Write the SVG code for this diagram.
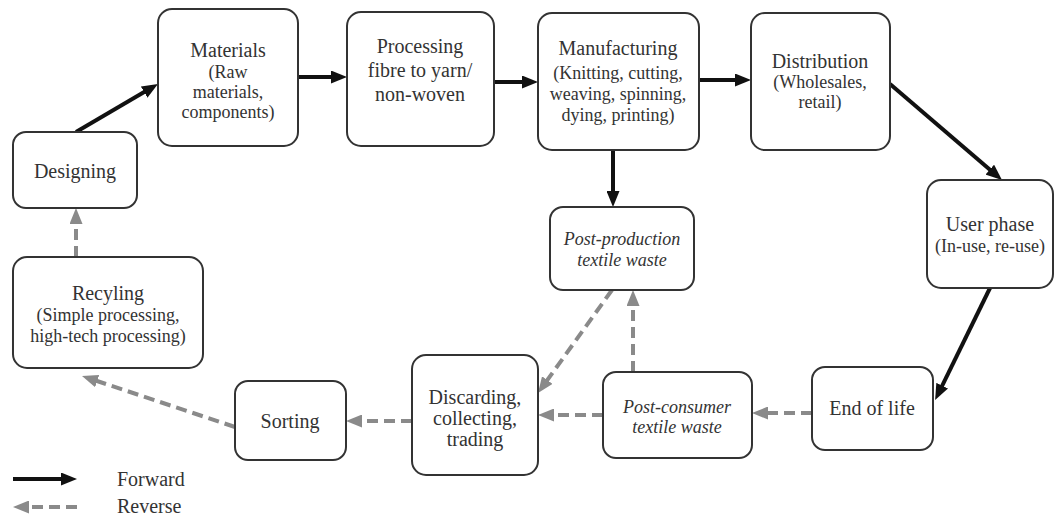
<svg xmlns="http://www.w3.org/2000/svg" width="1055" height="516" viewBox="0 0 1055 516">
<style>
.box{fill:#fff;stroke:#333;stroke-width:2}
.t{font-family:'Liberation Serif','DejaVu Serif',serif;font-size:20px;fill:#333;text-anchor:middle}
.s{font-size:18px}
.i{font-style:italic;font-size:18px}
.fw{stroke:#111;stroke-width:4;fill:none}
.rv{stroke:#8a8a8a;stroke-width:4;fill:none;stroke-dasharray:11 6}
</style>
<defs>
<marker id="ah" markerUnits="userSpaceOnUse" markerWidth="16" markerHeight="13" refX="4" refY="6.5" orient="auto">
<path d="M0,0 L16,6.5 L0,13 z" fill="#111"/>
</marker>
<marker id="ahg" markerUnits="userSpaceOnUse" markerWidth="16" markerHeight="13" refX="4" refY="6.5" orient="auto">
<path d="M0,0 L16,6.5 L0,13 z" fill="#8a8a8a"/>
</marker>
</defs>
<rect width="1055" height="516" fill="#fff"/>
<g id="connectors">
<line class="fw" x1="76" y1="132" x2="147.6" y2="90.1" marker-end="url(#ah)"/>
<line class="fw" x1="298" y1="77" x2="335" y2="77" marker-end="url(#ah)"/>
<line class="fw" x1="494" y1="82" x2="526" y2="82" marker-end="url(#ah)"/>
<line class="fw" x1="699" y1="80" x2="739" y2="80" marker-end="url(#ah)"/>
<line class="fw" x1="890" y1="84" x2="992.9" y2="172.2" marker-end="url(#ah)"/>
<line class="fw" x1="613" y1="150" x2="613" y2="195" marker-end="url(#ah)"/>
<line class="fw" x1="990" y1="288" x2="940.4" y2="389.3" marker-end="url(#ah)"/>
<line class="rv" x1="812" y1="413" x2="764" y2="413" marker-end="url(#ahg)"/>
<line class="rv" x1="633" y1="372" x2="633" y2="302" marker-end="url(#ahg)"/>
<line class="rv" x1="612" y1="290" x2="545" y2="383.3" marker-end="url(#ahg)"/>
<line class="rv" x1="603" y1="415" x2="550" y2="415" marker-end="url(#ahg)"/>
<line class="rv" x1="412" y1="421" x2="358" y2="421" marker-end="url(#ahg)"/>
<line class="rv" x1="235" y1="427" x2="93.4" y2="379.8" marker-end="url(#ahg)"/>
<line class="rv" x1="76" y1="257" x2="76" y2="220" marker-end="url(#ahg)"/>
</g>
<g id="designing">
<rect class="box" x="13" y="132" width="124" height="76" rx="13"/>
<text class="t" x="75" y="178">Designing</text>
</g>
<g id="materials">
<rect class="box" x="158" y="9" width="140" height="137" rx="14"/>
<text class="t" x="228" y="57">Materials</text>
<text class="t s" x="228" y="78">(Raw</text>
<text class="t s" x="228" y="98">materials,</text>
<text class="t s" x="228" y="118">components)</text>
</g>
<g id="processing">
<rect class="box" x="347" y="12" width="147" height="134" rx="14"/>
<text class="t" x="420" y="53">Processing</text>
<text class="t" x="420" y="77">fibre to yarn/</text>
<text class="t" x="420" y="101">non-woven</text>
</g>
<g id="manufacturing">
<rect class="box" x="538" y="13" width="161" height="137" rx="14"/>
<text class="t" x="618" y="55">Manufacturing</text>
<text class="t s" x="618" y="79">(Knitting, cutting,</text>
<text class="t s" x="618" y="100">weaving, spinning,</text>
<text class="t s" x="618" y="121">dying, printing)</text>
</g>
<g id="distribution">
<rect class="box" x="751" y="13" width="139" height="137" rx="14"/>
<text class="t" x="820" y="68">Distribution</text>
<text class="t s" x="820" y="88">(Wholesales,</text>
<text class="t s" x="820" y="108">retail)</text>
</g>
<g id="user-phase">
<rect class="box" x="927" y="180" width="126" height="108" rx="14"/>
<text class="t" x="990" y="231">User phase</text>
<text class="t s" x="990" y="252">(In-use, re-use)</text>
</g>
<g id="end-of-life">
<rect class="box" x="812" y="367" width="121" height="83" rx="13"/>
<text class="t" x="872" y="415">End of life</text>
</g>
<g id="post-production">
<rect class="box" x="550" y="207" width="144" height="83" rx="13"/>
<text class="t i" x="622" y="245">Post-production</text>
<text class="t i" x="622" y="266">textile waste</text>
</g>
<g id="post-consumer">
<rect class="box" x="603" y="372" width="149" height="86" rx="13"/>
<text class="t i" x="677" y="413">Post-consumer</text>
<text class="t i" x="677" y="433">textile waste</text>
</g>
<g id="discarding">
<rect class="box" x="412" y="355" width="126" height="120" rx="14"/>
<text class="t" x="475" y="404">Discarding,</text>
<text class="t" x="475" y="425">collecting,</text>
<text class="t" x="475" y="446">trading</text>
</g>
<g id="sorting">
<rect class="box" x="235" y="381" width="111" height="79" rx="13"/>
<text class="t" x="290" y="428">Sorting</text>
</g>
<g id="recycling">
<rect class="box" x="13" y="257" width="190" height="111" rx="14"/>
<text class="t" x="108" y="300">Recyling</text>
<text class="t s" x="108" y="321">(Simple processing,</text>
<text class="t s" x="108" y="342">high-tech processing)</text>
</g>
<g id="legend">
<line class="fw" x1="13" y1="479" x2="65" y2="479" marker-end="url(#ah)"/>
<text class="t" x="117" y="486" style="text-anchor:start">Forward</text>
<line class="rv" x1="77" y1="507" x2="25" y2="507" marker-end="url(#ahg)"/>
<text class="t" x="117" y="513" style="text-anchor:start">Reverse</text>
</g>
</svg>
